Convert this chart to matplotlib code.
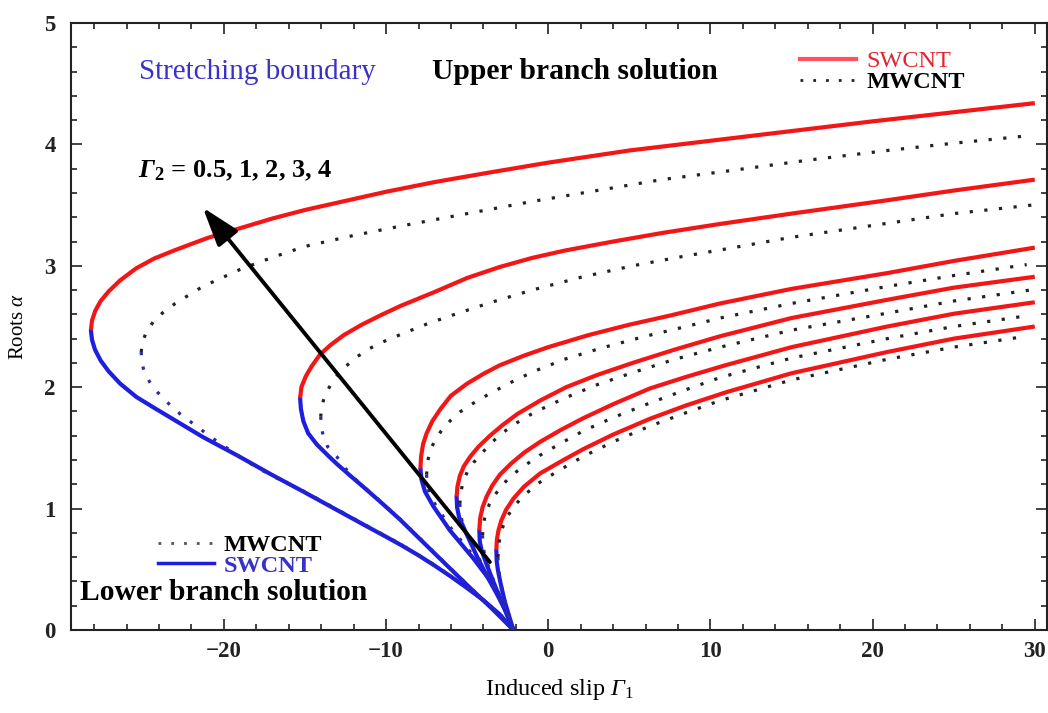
import matplotlib
matplotlib.use('Agg')
import matplotlib.pyplot as plt
from matplotlib.lines import Line2D
from matplotlib.ticker import MultipleLocator

plt.rcParams['font.family'] = ['Liberation Serif', 'DejaVu Serif']
plt.rcParams['mathtext.fontset'] = 'custom'
plt.rcParams['mathtext.rm'] = 'Liberation Serif'
plt.rcParams['mathtext.it'] = 'Liberation Serif:italic'
plt.rcParams['mathtext.sf'] = 'Liberation Serif:italic'
plt.rcParams['mathtext.bf'] = 'Liberation Serif:bold'
plt.rcParams['mathtext.bfit'] = 'Liberation Serif:bold:italic'

# ---------------- data (x = induced slip Gamma1, y = root alpha) ----------------
# SWCNT upper branch (red), from the turning point to the right
swu1_x = [-28.2, -28.13, -27.93, -27.6, -27.1, -26.4, -25.4, -24.3, -23.0, -21.0, -19.0, -17.0, -15.0, -13.0, -10.0, -7.0, -4.0, 0.0, 5.0, 10.0, 15.0, 20.0, 25.0, 30.0]
swu1_y = [2.47, 2.55, 2.63, 2.71, 2.79, 2.88, 2.98, 3.06, 3.13, 3.23, 3.31, 3.39, 3.46, 3.52, 3.61, 3.69, 3.76, 3.85, 3.95, 4.03, 4.11, 4.19, 4.265, 4.34]
swu2_x = [-15.3, -15.22, -14.95, -14.6, -14.07, -13.4, -12.6, -11.5, -10.3, -9.1, -7.0, -5.0, -3.0, -1.0, 1.0, 4.0, 7.0, 10.6, 15.0, 20.9, 25.0, 30.0]
swu2_y = [1.91, 2.00, 2.09, 2.17, 2.27, 2.35, 2.43, 2.515, 2.595, 2.67, 2.785, 2.90, 2.99, 3.065, 3.125, 3.20, 3.27, 3.345, 3.43, 3.54, 3.62, 3.71]
swu3_x = [-7.88, -7.84, -7.72, -7.5, -7.15, -6.65, -6.0, -5.0, -4.0, -3.0, -1.5, 0.0, 2.5, 5.0, 7.5, 10.6, 15.0, 20.9, 25.0, 30.0]
swu3_y = [1.33, 1.43, 1.53, 1.62, 1.72, 1.82, 1.93, 2.03, 2.11, 2.18, 2.26, 2.33, 2.43, 2.515, 2.59, 2.69, 2.81, 2.94, 3.04, 3.15]
swu4_x = [-5.65, -5.6, -5.45, -5.2, -4.8, -4.3, -3.6, -2.8, -1.9, -0.5, 1.1, 3.0, 5.2, 7.8, 10.6, 15.0, 20.9, 25.0, 30.0]
swu4_y = [1.10, 1.18, 1.27, 1.35, 1.43, 1.51, 1.60, 1.69, 1.78, 1.89, 2.0, 2.10, 2.20, 2.31, 2.42, 2.57, 2.72, 2.82, 2.91]
swu5_x = [-4.25, -4.2, -4.05, -3.8, -3.45, -2.98, -2.3, -1.5, -0.5, 0.8, 2.16, 4.0, 6.27, 8.5, 10.9, 15.0, 20.9, 25.0, 30.0]
swu5_y = [0.82, 0.92, 1.01, 1.10, 1.19, 1.28, 1.37, 1.46, 1.55, 1.65, 1.745, 1.86, 1.99, 2.085, 2.18, 2.33, 2.50, 2.605, 2.70]
swu6_x = [-3.2, -3.17, -3.07, -2.9, -2.6, -2.16, -1.5, -0.5, 0.8, 2.16, 4.0, 6.27, 8.5, 11.0, 15.0, 20.9, 25.0, 30.0]
swu6_y = [0.66, 0.74, 0.82, 0.90, 0.99, 1.08, 1.18, 1.29, 1.39, 1.49, 1.61, 1.74, 1.85, 1.96, 2.115, 2.29, 2.40, 2.50]

# SWCNT lower branch (blue), from the turning point down to alpha = 0
swl1_x = [-28.2, -28.13, -27.95, -27.6, -27.1, -26.4, -25.4, -24.3, -23.3, -21.3, -19.2, -17.2, -15.1, -13.05, -11.0, -10.0, -9.0, -8.0, -7.0, -6.0, -5.0, -4.0, -3.0, -2.15]
swl1_y = [2.47, 2.39, 2.31, 2.22, 2.13, 2.03, 1.92, 1.83, 1.75, 1.59, 1.44, 1.29, 1.14, 0.99, 0.84, 0.768, 0.694, 0.615, 0.53, 0.44, 0.345, 0.245, 0.13, 0.0]
swl2_x = [-15.3, -15.25, -15.1, -14.8, -14.28, -13.6, -13.05, -12.2, -11.41, -10.3, -9.14, -7.0, -5.0, -3.5, -2.15]
swl2_y = [1.91, 1.82, 1.72, 1.62, 1.53, 1.44, 1.37, 1.27, 1.18, 1.05, 0.91, 0.63, 0.37, 0.18, 0.0]
swl3_x = [-7.88, -7.82, -7.6, -7.09, -6.06, -4.62, -3.6, -2.9, -2.15]
swl3_y = [1.33, 1.24, 1.14, 1.02, 0.82, 0.59, 0.41, 0.25, 0.0]
swl4_x = [-5.65, -5.62, -5.5, -5.0, -4.41, -3.8, -3.18, -2.6, -2.15]
swl4_y = [1.10, 1.01, 0.93, 0.78, 0.61, 0.45, 0.30, 0.15, 0.0]
swl5_x = [-4.25, -4.22, -4.1, -3.8, -3.39, -2.9, -2.5, -2.15]
swl5_y = [0.82, 0.73, 0.65, 0.54, 0.40, 0.24, 0.11, 0.0]
swl6_x = [-3.2, -3.18, -3.1, -2.9, -2.67, -2.4, -2.15]
swl6_y = [0.66, 0.57, 0.49, 0.36, 0.23, 0.11, 0.0]

# MWCNT upper branch (black dotted)
mwu1_x = [-25.1, -25.02, -24.8, -24.35, -23.8, -23.0, -21.3, -19.0, -17.0, -15.0, -12.0, -9.0, -5.0, -1.0, 3.0, 7.0, 11.0, 16.0, 20.9, 25.0, 29.5]
mwu1_y = [2.29, 2.37, 2.45, 2.54, 2.61, 2.69, 2.83, 2.97, 3.07, 3.16, 3.25, 3.33, 3.43, 3.53, 3.62, 3.71, 3.78, 3.87, 3.95, 4.01, 4.07]
mwu2_x = [-14.03, -13.97, -13.8, -13.5, -13.05, -12.5, -11.8, -11.0, -10.0, -9.0, -7.5, -6.0, -3.5, -1.0, 2.0, 5.2, 8.0, 11.0, 15.0, 20.9, 25.0, 29.8]
mwu2_y = [1.757, 1.84, 1.92, 2.00, 2.09, 2.17, 2.25, 2.32, 2.385, 2.44, 2.52, 2.59, 2.70, 2.80, 2.905, 3.0, 3.07, 3.14, 3.235, 3.35, 3.43, 3.50]
mwu3_x = [-7.5, -7.45, -7.3, -7.0, -6.6, -6.0, -5.4, -4.6, -3.7, -2.3, -0.9, 1.0, 3.2, 6.0, 8.5, 10.6, 15.0, 20.9, 25.0, 29.5]
mwu3_y = [1.28, 1.38, 1.47, 1.56, 1.64, 1.73, 1.80, 1.87, 1.94, 2.04, 2.13, 2.23, 2.32, 2.42, 2.50, 2.57, 2.69, 2.83, 2.92, 3.01]
mwu4_x = [-5.45, -5.4, -5.25, -5.0, -4.6, -4.2, -3.6, -2.87, -1.9, -0.9, 1.0, 3.0, 5.2, 7.8, 10.6, 15.0, 20.9, 25.0, 29.7]
mwu4_y = [1.04, 1.13, 1.22, 1.30, 1.38, 1.44, 1.53, 1.62, 1.71, 1.79, 1.91, 2.02, 2.12, 2.23, 2.33, 2.47, 2.61, 2.71, 2.80]
mwu5_x = [-4.05, -4.0, -3.88, -3.65, -3.3, -2.87, -2.2, -1.4, -0.5, 0.8, 2.16, 4.0, 6.27, 8.5, 10.6, 15.0, 20.9, 25.0, 29.6]
mwu5_y = [0.78, 0.87, 0.95, 1.03, 1.11, 1.19, 1.28, 1.36, 1.44, 1.54, 1.64, 1.75, 1.87, 1.98, 2.08, 2.24, 2.40, 2.50, 2.59]
mwu6_x = [-3.1, -3.07, -2.98, -2.8, -2.5, -2.05, -1.4, -0.6, 0.6, 2.16, 4.0, 6.27, 8.5, 10.6, 15.0, 20.9, 25.0, 29.5]
mwu6_y = [0.60, 0.68, 0.76, 0.85, 0.94, 1.03, 1.12, 1.21, 1.31, 1.43, 1.55, 1.68, 1.79, 1.89, 2.06, 2.23, 2.33, 2.42]

# MWCNT lower branch (blue dotted)
mwl1_x = [-25.1, -25.05, -24.9, -24.56, -24.1, -23.53, -22.7, -21.7, -20.7, -19.6, -18.6, -17.57, -16.3, -15.1, -13.05, -11.0, -9.0, -7.0, -5.0, -3.0, -2.15]
mwl1_y = [2.29, 2.20, 2.12, 2.04, 1.96, 1.88, 1.78, 1.68, 1.58, 1.48, 1.39, 1.31, 1.22, 1.145, 0.995, 0.845, 0.699, 0.535, 0.35, 0.135, 0.0]
mwl2_x = [-14.03, -13.98, -13.87, -13.6, -13.05, -12.5, -12.0, -11.41, -10.3, -9.14, -7.0, -5.0, -3.5, -2.15]
mwl2_y = [1.757, 1.67, 1.59, 1.51, 1.43, 1.33, 1.255, 1.185, 1.055, 0.915, 0.635, 0.375, 0.185, 0.0]
mwl3_x = [-7.5, -7.47, -7.3, -6.9, -6.0, -4.6, -3.6, -2.9, -2.15]
mwl3_y = [1.28, 1.19, 1.11, 1.02, 0.84, 0.61, 0.42, 0.26, 0.0]
mwl4_x = [-5.45, -5.42, -5.3, -4.9, -4.35, -3.75, -3.15, -2.6, -2.15]
mwl4_y = [1.04, 0.96, 0.89, 0.76, 0.61, 0.45, 0.30, 0.15, 0.0]
mwl5_x = [-4.05, -4.03, -3.92, -3.7, -3.35, -2.85, -2.45, -2.15]
mwl5_y = [0.78, 0.70, 0.62, 0.53, 0.40, 0.24, 0.11, 0.0]
mwl6_x = [-3.1, -3.08, -3.0, -2.85, -2.63, -2.4, -2.15]
mwl6_y = [0.60, 0.52, 0.44, 0.34, 0.22, 0.11, 0.0]

x_ticks = [-20, -10, 0, 10, 20, 30]
y_ticks = [0, 1, 2, 3, 4, 5]
arrow_tail = (-3.6, 0.56)
arrow_head = (-21.3, 3.48)

RED = '#f21616'
BLUE = '#1e1ee0'
TXT_BLUE = '#3a32c8'

sw_upper = [(swu1_x, swu1_y), (swu2_x, swu2_y), (swu3_x, swu3_y), (swu4_x, swu4_y), (swu5_x, swu5_y), (swu6_x, swu6_y)]
sw_lower = [(swl1_x, swl1_y), (swl2_x, swl2_y), (swl3_x, swl3_y), (swl4_x, swl4_y), (swl5_x, swl5_y), (swl6_x, swl6_y)]
mw_upper = [(mwu1_x, mwu1_y), (mwu2_x, mwu2_y), (mwu3_x, mwu3_y), (mwu4_x, mwu4_y), (mwu5_x, mwu5_y), (mwu6_x, mwu6_y)]
mw_lower = [(mwl1_x, mwl1_y), (mwl2_x, mwl2_y), (mwl3_x, mwl3_y), (mwl4_x, mwl4_y), (mwl5_x, mwl5_y), (mwl6_x, mwl6_y)]

fig = plt.figure(figsize=(10.48, 7.13), dpi=100)
ax = fig.add_axes([0.0677, 0.1164, 0.9313, 0.8513])

dot_style = (0, (1.0, 3.6))
for xs, ys in sw_lower:
    ax.plot(xs, ys, color=BLUE, lw=3.0, solid_joinstyle='round', solid_capstyle='round', zorder=2)
for xs, ys in sw_upper:
    ax.plot(xs, ys, color=RED, lw=3.0, solid_joinstyle='round', solid_capstyle='butt', zorder=2)
for xs, ys in mw_lower:
    ax.plot(xs, ys, color='#2a2aa8', lw=2.3, linestyle=dot_style, zorder=3)
for xs, ys in mw_upper:
    ax.plot(xs, ys, color='#222222', lw=2.3, linestyle=dot_style, zorder=3)

ax.annotate('', xy=arrow_head, xytext=arrow_tail,
            arrowprops=dict(arrowstyle='-|>,head_length=0.85,head_width=0.28',
                            color='black', lw=2.8, mutation_scale=28, shrinkA=0, shrinkB=0),
            zorder=5)

ax.set_xlim(-29.43, 30.75)
ax.set_ylim(0, 5)
ax.set_xticks(x_ticks)
ax.set_yticks(y_ticks)
ax.xaxis.set_minor_locator(MultipleLocator(2))
ax.yaxis.set_minor_locator(MultipleLocator(0.2))
ax.tick_params(which='both', direction='in', top=True, right=True, width=1.2, colors='#222222')
ax.tick_params(which='major', length=8, labelsize=16.5)
ax.tick_params(axis='x', which='major', pad=8)
ax.tick_params(axis='y', which='major', pad=11)
ax.tick_params(which='minor', length=4)
for lab in ax.get_xticklabels() + ax.get_yticklabels():
    lab.set_fontweight('bold')
for sp in ax.spines.values():
    sp.set_linewidth(1.5)
    sp.set_color('#222222')

ax.set_xlabel(r'Induced slip $\mathsf{Γ}_1$', fontsize=17.5, labelpad=11)
ax.set_ylabel(r'Roots $\mathit{α}$', fontsize=15, labelpad=12)

ax.text(-17.96, 4.60, 'Stretching boundary', color=TXT_BLUE, fontsize=21,
        ha='center', va='center')
ax.text(1.65, 4.60, 'Upper branch solution', color='black', fontsize=21.3,
        fontweight='bold', ha='center', va='center')
ax.text(-25.3, 3.78, r'$\mathbfit{\Gamma}_{\mathbf{2}}$ = 0.5, 1, 2, 3, 4', color='black',
        fontsize=19, fontweight='bold', ha='left', va='center')
ax.text(-28.87, 0.31, 'Lower branch solution', color='black', fontsize=21.3,
        fontweight='bold', ha='left', va='center')

# legends
leg_prop = {'family': 'Liberation Serif', 'size': 17.5, 'weight': 'bold'}
h_sw = Line2D([], [], color='#ff5060', lw=3)
h_mw = Line2D([], [], color='#222222', lw=2.0, linestyle=(0, (1.0, 3.6)))
leg1 = ax.legend([h_sw, h_mw], ['SWCNT', 'MWCNT'], loc='upper left',
                 bbox_to_anchor=(0.747, 0.955), frameon=False, prop=leg_prop,
                 handlelength=2.3, handletextpad=0.42, labelspacing=-0.05,
                 borderpad=0, borderaxespad=0)
t = leg1.get_texts()
t[0].set_color('#e02430'); t[0].set_fontweight('normal')
t[1].set_color('black')
ax.add_artist(leg1)

h_mw2 = Line2D([], [], color='#555555', lw=2.0, linestyle=(0, (1.0, 3.6)))
h_sw2 = Line2D([], [], color=BLUE, lw=2.5)
leg2 = ax.legend([h_mw2, h_sw2], ['MWCNT', 'SWCNT'], loc='upper left',
                 bbox_to_anchor=(0.089, 0.158), frameon=False, prop=leg_prop,
                 handlelength=2.3, handletextpad=0.42, labelspacing=-0.05,
                 borderpad=0, borderaxespad=0)
t2 = leg2.get_texts()
t2[0].set_color('black')
t2[1].set_color(TXT_BLUE)

fig.savefig('out.png', dpi=100)
